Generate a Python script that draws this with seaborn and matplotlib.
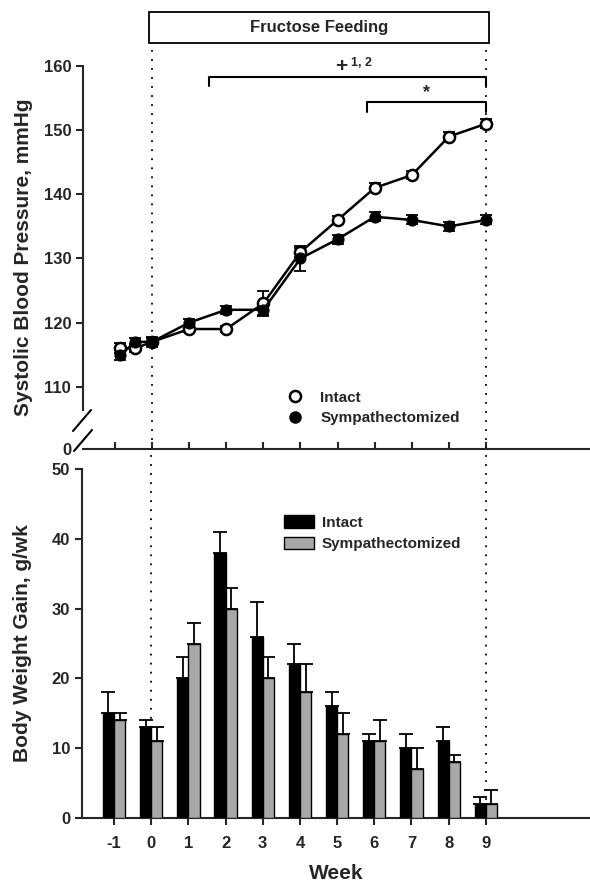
import numpy as np
import pandas as pd
import matplotlib
matplotlib.use("Agg")
import matplotlib.pyplot as plt
from matplotlib.lines import Line2D
from matplotlib.patches import Patch, Rectangle
import seaborn as sns

# systolic blood pressure (top panel)
bp_weeks = [-0.85, -0.45, 0, 1, 2, 3, 4, 5, 6, 7, 8, 9]
bp_intact = [116, 116, 117, 119, 119, 123, 131, 136, 141, 143, 149, 151]
bp_intact_err = [0.8, 0.6, 0.6, 0.5, 0.5, 2.0, 0.7, 0.6, 0.7, 0.6, 0.7, 0.7]
bp_symp = [115, 117, 117, 120, 122, 122, 130, 133, 136.5, 136, 135, 136]
bp_symp_err = [0.8, 0.6, 0.8, 0.5, 0.6, 0.8, 2.0, 0.7, 0.7, 0.7, 0.7, 0.7]

# body weight gain (bottom panel)
weeks = [-1, 0, 1, 2, 3, 4, 5, 6, 7, 8, 9]
bw_intact = [15, 13, 20, 38, 26, 22, 16, 11, 10, 11, 2]
bw_intact_err = [3, 1, 3, 3, 5, 3, 2, 1, 2, 2, 1]
bw_symp = [14, 11, 25, 30, 20, 18, 12, 11, 7, 8, 2]
bw_symp_err = [1, 2, 3, 3, 3, 4, 3, 3, 3, 1, 2]

groups = ["Intact", "Sympathectomized"]

sns.set_theme(style="ticks")
plt.rcParams["font.family"] = ["Liberation Sans", "DejaVu Sans"]
plt.rcParams["font.weight"] = "bold"
plt.rcParams["axes.labelweight"] = "bold"

W, H = 590, 881
fig = plt.figure(figsize=(W / 100, H / 100), dpi=100)


def frac(x0, y0, x1, y1):
    # pixel box (top-left origin) -> figure fraction rect
    return [x0 / W, 1 - y1 / H, (x1 - x0) / W, (y1 - y0) / H]


ax1 = fig.add_axes(frac(83, 66, 590, 449))
ax2 = fig.add_axes(frac(82, 469, 590, 818))

xlim = (-1.86, 11.8)
top_low = 100.3

# ---- top panel ----
ax1.errorbar(bp_weeks, bp_intact, yerr=bp_intact_err, fmt="none", ecolor="black",
             elinewidth=1.3, capsize=4, capthick=1.3, zorder=2)
ax1.errorbar(bp_weeks, bp_symp, yerr=bp_symp_err, fmt="none", ecolor="black",
             elinewidth=1.3, capsize=4, capthick=1.3, zorder=2)
sns.lineplot(x=bp_weeks, y=bp_intact, ax=ax1, color="black", linewidth=1.8,
             marker="o", markersize=8, markerfacecolor="white",
             markeredgecolor="black", markeredgewidth=1.8, zorder=3)
sns.lineplot(x=bp_weeks, y=bp_symp, ax=ax1, color="black", linewidth=1.8,
             marker="o", markersize=8, markerfacecolor="black",
             markeredgecolor="black", zorder=4)

ax1.set_xlim(*xlim)
ax1.set_ylim(top_low, 160)
ax1.set_yticks([top_low, 110, 120, 130, 140, 150, 160])
ax1.set_yticklabels(["0", "110", "120", "130", "140", "150", "160"])
ax1.set_xticks(weeks)
ax1.set_xticklabels([])
ax1.tick_params(axis="x", direction="in", length=5, width=1.5)
ax1.tick_params(axis="y", direction="out", length=5, width=1.5, labelsize=12)
ax1.yaxis.get_major_ticks()[0].tick1line.set_visible(False)
ax1.spines["left"].set_bounds(106.4, 160)
for s in ["top", "right"]:
    ax1.spines[s].set_visible(False)
for s in ["left", "bottom"]:
    ax1.spines[s].set_linewidth(1.5)
ax1.set_ylabel("Systolic Blood Pressure, mmHg", fontsize=15)
ax1.yaxis.set_label_coords(-0.098, 0.5)

# axis break marks
for (xa, ya, xb, yb) in [(73, 431, 91, 410), (74, 451, 92, 430)]:
    fig.add_artist(Line2D([xa / W, xb / W], [1 - ya / H, 1 - yb / H],
                          transform=fig.transFigure, color="black", lw=1.5))

# brackets
ax1.plot([1.53, 1.53, 9, 9], [156.9, 158.3, 158.3, 156.9], color="black",
         lw=1.5, clip_on=False)
ax1.plot([5.8, 5.8, 9, 9], [152.8, 154.4, 154.4, 152.8], color="black",
         lw=1.5, clip_on=False)
ax1.text(5.1, 158.5, "+", fontsize=15, ha="center", va="bottom")
ax1.text(5.35, 159.6, "1, 2", fontsize=9, ha="left", va="bottom")
ax1.text(7.4, 154.5, "*", fontsize=13, ha="center", va="bottom")

# dotted feeding period lines
for xv in [0, 9]:
    ax1.plot([xv, xv], [top_low, 163.6], color="black", lw=1.3,
             linestyle=(0, (1, 4)), clip_on=False)
    ax2.plot([xv, xv], [0, 52.9], color="black", lw=1.3,
             linestyle=(0, (1, 4)), clip_on=False)

# fructose feeding box
ax1.add_patch(Rectangle((-0.08, 163.6), 9.16, 4.8, facecolor="white",
                        edgecolor="black", lw=1.3, clip_on=False))
ax1.text(4.5, 166.0, "Fructose Feeding", ha="center", va="center", fontsize=12)

ax1.legend(handles=[
    Line2D([], [], ls="none", marker="o", ms=8, mfc="white", mec="black", mew=1.8),
    Line2D([], [], ls="none", marker="o", ms=8, mfc="black", mec="black")],
    labels=groups, loc="upper left", bbox_to_anchor=(0.375, 0.168),
    frameon=False, fontsize=11, handletextpad=0.7, labelspacing=0.4,
    borderaxespad=0)

# ---- bottom panel ----
df = pd.DataFrame({
    "week": weeks * 2,
    "gain": bw_intact + bw_symp,
    "group": [groups[0]] * len(weeks) + [groups[1]] * len(weeks),
})
sns.barplot(data=df, x="week", y="gain", hue="group", native_scale=True,
            palette=["black", "#a8a8a8"], width=0.6, edgecolor="black",
            linewidth=1.0, errorbar=None, legend=False, ax=ax2, zorder=3)

off = 0.15
ax2.errorbar(np.array(weeks) - off, bw_intact, yerr=[np.zeros(len(weeks)), bw_intact_err],
             fmt="none", ecolor="black", elinewidth=1.3, capsize=5, capthick=1.3, zorder=2)
ax2.errorbar(np.array(weeks) + off, bw_symp, yerr=[np.zeros(len(weeks)), bw_symp_err],
             fmt="none", ecolor="black", elinewidth=1.3, capsize=5, capthick=1.3, zorder=2)

ax2.set_xlim(*xlim)
ax2.set_ylim(0, 50)
ax2.set_yticks([0, 10, 20, 30, 40, 50])
ax2.set_xticks(weeks)
ax2.set_xticklabels([str(w) for w in weeks])
ax2.tick_params(axis="both", direction="out", length=5, width=1.5, labelsize=12)
ax2.tick_params(axis="x", pad=8)
for s in ["top", "right"]:
    ax2.spines[s].set_visible(False)
for s in ["left", "bottom"]:
    ax2.spines[s].set_linewidth(1.5)
ax2.set_ylabel("Body Weight Gain, g/wk", fontsize=15)
ax2.set_xlabel("Week", fontsize=15, labelpad=9)
ax2.yaxis.set_label_coords(-0.098, 0.5)

ax2.legend(handles=[Patch(facecolor="black", edgecolor="black"),
                    Patch(facecolor="#a8a8a8", edgecolor="black")],
           labels=groups, loc="upper left", bbox_to_anchor=(0.385, 0.885),
           frameon=False, fontsize=11, handlelength=2.0, handleheight=0.9,
           handletextpad=0.5, labelspacing=0.45, borderaxespad=0)

fig.savefig("out.png", dpi=100)
